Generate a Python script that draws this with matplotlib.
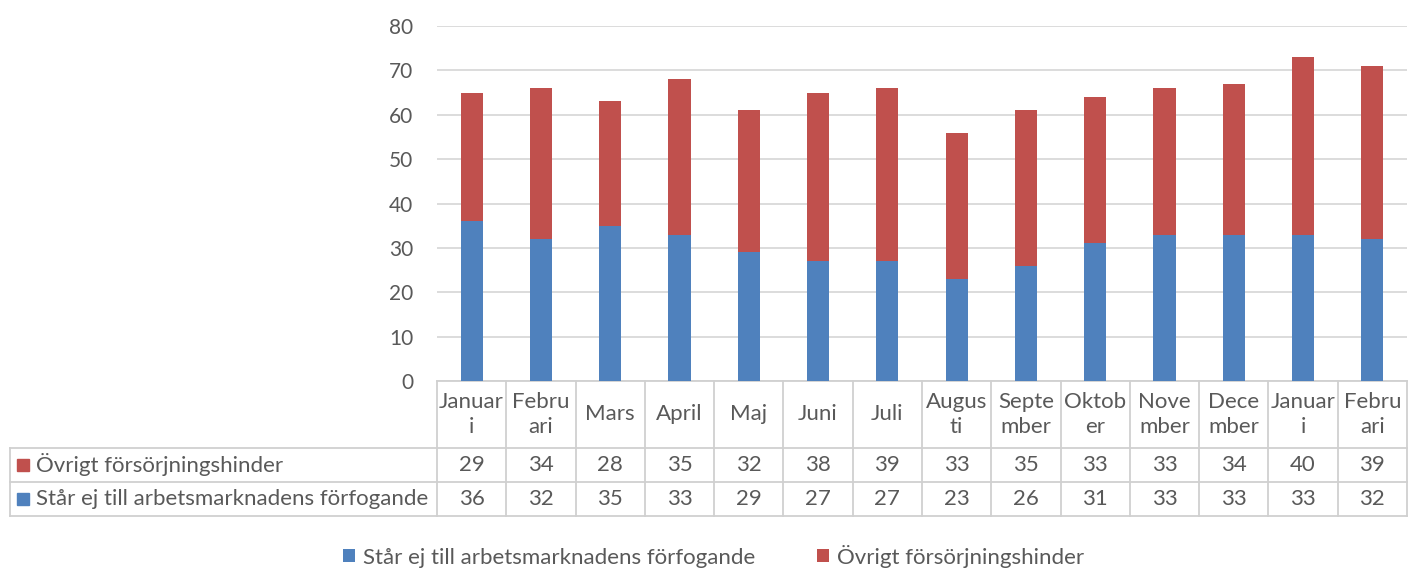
import numpy as np
import matplotlib.pyplot as plt
import matplotlib.transforms as mtransforms
from matplotlib.patches import Rectangle

plt.rcParams['font.family'] = ['Lato', 'DejaVu Sans']

months = ["Januar\ni", "Febru\nari", "Mars", "April", "Maj", "Juni", "Juli",
          "Augus\nti", "Septe\nmber", "Oktob\ner", "Nove\nmber", "Dece\nmber",
          "Januar\ni", "Febru\nari"]
star_ej = [36, 32, 35, 33, 29, 27, 27, 23, 26, 31, 33, 33, 33, 32]
ovrigt = [29, 34, 28, 35, 32, 38, 39, 33, 35, 33, 33, 34, 40, 39]
series_names = ["Står ej till arbetsmarknadens förfogande", "Övrigt försörjningshinder"]

blue = '#4F81BD'
red = '#C0504D'
txt = '#595959'
grid = '#D9D9D9'
W, H = 1413, 570

fig = plt.figure(figsize=(W / 100, H / 100), dpi=100)
ax = fig.add_axes([437 / W, 1 - 381 / H, (1407 - 437) / W, (381 - 26) / H])

x = np.arange(len(months))
b1 = ax.bar(x, star_ej, width=0.32, color=blue, label=series_names[0], zorder=3)
b2 = ax.bar(x, ovrigt, width=0.32, bottom=star_ej, color=red, label=series_names[1], zorder=3)

ax.set_xlim(-0.5, len(months) - 0.5)
ax.set_ylim(0, 80)
ax.set_yticks(range(0, 81, 10))
ax.yaxis.grid(True, color=grid, linewidth=1.3)
ax.set_axisbelow(True)
for s in ax.spines.values():
    s.set_visible(False)
ax.tick_params(axis='y', length=0, pad=17, labelsize=15, labelcolor=txt)
ax.set_xticks([])

# data table below the plot
fs = 16
lc = '#D0D0D0'
trans = mtransforms.blended_transform_factory(ax.transData, ax.transAxes)
ph = 381 - 26
y_top = 0.0
y_h = -(448 - 381) / ph
y_r1 = -(482 - 381) / ph
y_r2 = -(516 - 381) / ph

# horizontal lines in the value columns
for yy in [y_top, y_h, y_r1, y_r2]:
    ax.plot([-0.5, len(months) - 0.5], [yy, yy], transform=trans, color=lc,
            lw=1.3, clip_on=False)
# vertical lines
for xb in np.arange(-0.5, len(months), 1.0):
    ax.plot([xb, xb], [y_top, y_r2], transform=trans, color=lc, lw=1.3, clip_on=False)

for i, m in enumerate(months):
    ax.text(i, (y_top + y_h) / 2, m, transform=trans, ha='center', va='center',
            fontsize=fs, color=txt, linespacing=1.3)
    ax.text(i, (y_h + y_r1) / 2, str(ovrigt[i]), transform=trans, ha='center',
            va='center', fontsize=fs, color=txt)
    ax.text(i, (y_r1 + y_r2) / 2, str(star_ej[i]), transform=trans, ha='center',
            va='center', fontsize=fs, color=txt)

# label column (figure coords)
def fy(py):
    return 1 - py / H

for py in [448, 482, 516]:
    fig.add_artist(plt.Line2D([10 / W, 437 / W], [fy(py), fy(py)], color=lc, lw=1.3))
fig.add_artist(plt.Line2D([10 / W, 10 / W], [fy(448), fy(516)], color=lc, lw=1.3))

for (py, name, col) in [(465, series_names[1], red), (499, series_names[0], blue)]:
    fig.add_artist(Rectangle((17 / W, fy(py + 6)), 12 / W, 12 / H, color=col,
                             transform=fig.transFigure))
    fig.text(36 / W, fy(py), name, ha='left', va='center', fontsize=fs, color=txt)

fig.legend(handles=[b1, b2], loc='center', bbox_to_anchor=(0.505, 1 - 556 / H),
           ncol=2, frameon=False, fontsize=fs, labelcolor=txt, handlelength=0.55,
           handleheight=0.55, handletextpad=0.35, columnspacing=2.8)

fig.savefig('out.png', dpi=100)
